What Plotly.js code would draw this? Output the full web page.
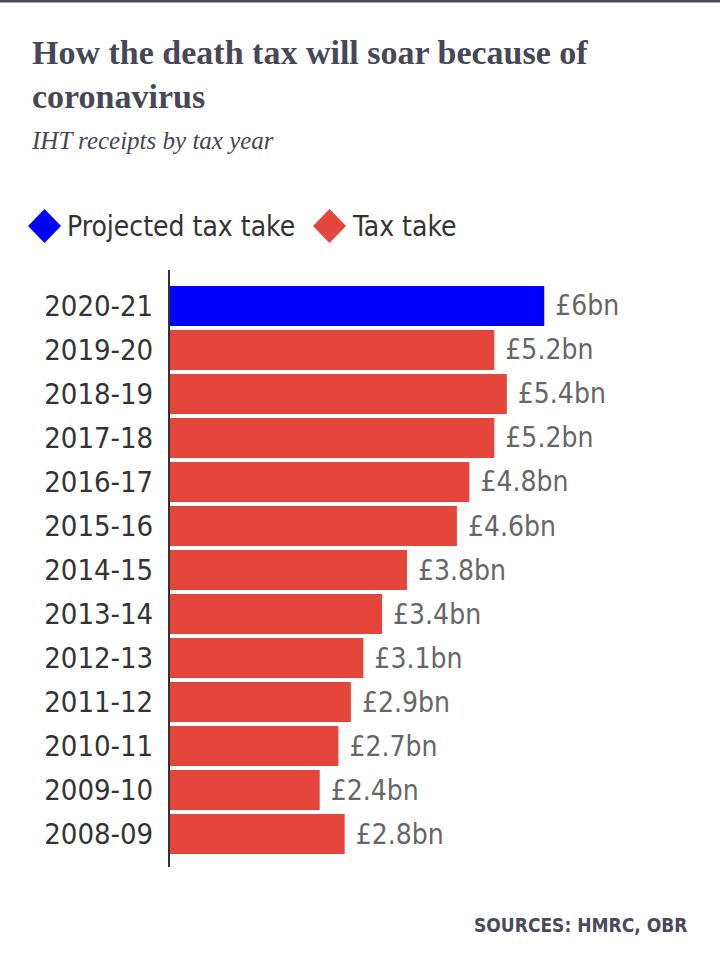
<!DOCTYPE html>
<html>
<head>
<meta charset="utf-8">
<script src="https://cdn.plot.ly/plotly-3.0.1.min.js"></script>
<style>
  html, body { margin: 0; padding: 0; background: #ffffff; }
  #chart { width: 720px; height: 974px; }
</style>
</head>
<body>
<div id="chart"></div>
<script>
// ---- data ----
const taxYears = ["2020-21", "2019-20", "2018-19", "2017-18", "2016-17", "2015-16", "2014-15",
                  "2013-14", "2012-13", "2011-12", "2010-11", "2009-10", "2008-09"];
const receiptsBn = [6, 5.2, 5.4, 5.2, 4.8, 4.6, 3.8, 3.4, 3.1, 2.9, 2.7, 2.4, 2.8];
const isProjected = [true, false, false, false, false, false, false, false, false, false, false, false, false];
const seriesNames = ["Projected tax take", "Tax take"];

const titleText = "How the death tax will soar because of<br>coronavirus";
const subtitleText = "IHT receipts by tax year";
const sourceText = "SOURCES: HMRC, OBR";

// ---- layout constants ----
const W = 720, H = 974;
const M = { l: 170, r: 51, t: 270, b: 107 };
const plotW = W - M.l - M.r, plotH = H - M.t - M.b;
const px = x => (x - M.l) / plotW;          // page pixel -> paper x
const py = y => (H - M.b - y) / plotH;      // page pixel -> paper y

const SANS = "'DejaVu Sans Condensed', 'DejaVu Sans', sans-serif";
const SERIF = "'Liberation Serif', 'DejaVu Serif', serif";
const BLUE = "#0000ff", RED = "#e4463c";
const colors = [BLUE, RED];

function pick(arr, flag) { return arr.filter((_, i) => isProjected[i] === flag); }

const traces = [true, false].map((flag, k) => ({
  type: "bar",
  orientation: "h",
  name: seriesNames[k],
  y: pick(taxYears, flag),
  x: pick(receiptsBn, flag),
  marker: { color: colors[k], line: { width: 0 } },
  texttemplate: "\u00a0£%{x}bn",
  textposition: "outside",
  constraintext: "none",
  cliponaxis: false,
  textfont: { family: SANS, size: 28, color: "#666666" },
  hoverinfo: "skip",
  showlegend: false
}));

function diamond(cx, cy, hw, hh, color) {
  const p = `M ${px(cx - hw)} ${py(cy)} L ${px(cx)} ${py(cy - hh)} L ${px(cx + hw)} ${py(cy)} L ${px(cx)} ${py(cy + hh)} Z`;
  return { type: "path", xref: "paper", yref: "paper", path: p, fillcolor: color, line: { width: 0 } };
}

const legendY = 226;
const layout = {
  width: W, height: H,
  margin: M,
  paper_bgcolor: "#ffffff",
  plot_bgcolor: "#ffffff",
  barmode: "overlay",
  bargap: 0.09,
  showlegend: false,
  title: {
    text: titleText,
    font: { family: SERIF, size: 34, weight: 700, color: "#474756" },
    x: 32 / W, xanchor: "left", xref: "container",
    y: 1 - 64 / H, yanchor: "top", yref: "container"
  },
  xaxis: {
    range: [0, 8],
    visible: false,
    fixedrange: true
  },
  yaxis: {
    type: "category",
    categoryorder: "array",
    categoryarray: taxYears,
    range: [12.75, -0.818],
    showline: true, linecolor: "#333333", linewidth: 2,
    showgrid: false, zeroline: false,
    ticks: "",
    ticklabelstandoff: 9,
    tickfont: { family: SANS, size: 29, color: "#333333" },
    automargin: false,
    fixedrange: true
  },
  shapes: [
    { type: "line", xref: "paper", yref: "paper", x0: px(0), x1: px(W), y0: py(1), y1: py(1),
      line: { color: "#4a4a58", width: 3 } },
    diamond(44.5, legendY, 16.5, 17, BLUE),
    diamond(329.5, legendY, 16.5, 17, RED)
  ],
  annotations: [
    { text: subtitleText, xref: "paper", yref: "paper", x: px(29), y: py(140), xanchor: "left", yanchor: "middle",
      showarrow: false, font: { family: SERIF, size: 25, style: "italic", color: "#474756" } },
    { text: seriesNames[0], xref: "paper", yref: "paper", x: px(65), y: py(legendY), xanchor: "left", yanchor: "middle",
      showarrow: false, font: { family: SANS, size: 28, color: "#333333" } },
    { text: seriesNames[1], xref: "paper", yref: "paper", x: px(350), y: py(legendY), xanchor: "left", yanchor: "middle",
      showarrow: false, font: { family: SANS, size: 28, color: "#333333" } },
    { text: sourceText, xref: "paper", yref: "paper", x: px(689), y: py(925), xanchor: "right", yanchor: "middle",
      showarrow: false, font: { family: SANS, size: 19, weight: 700, color: "#4a4a58" } }
  ]
};

Plotly.newPlot("chart", traces, layout, { staticPlot: true, displayModeBar: false });
</script>
</body>
</html>
